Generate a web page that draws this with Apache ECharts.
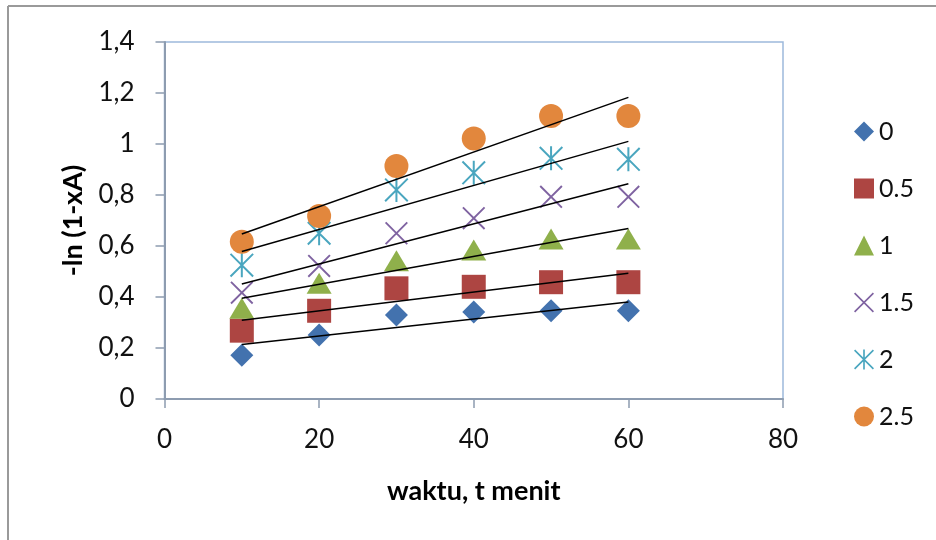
<!DOCTYPE html>
<html>
<head>
<meta charset="utf-8">
<script src="https://cdn.jsdelivr.net/npm/echarts@6/dist/echarts.min.js"></script>
<style>html,body{margin:0;padding:0;background:#fff;}#c{width:936px;height:540px;}</style>
</head>
<body>
<div id="c"></div>
<script>
var times = [10, 20, 30, 40, 50, 60];
var seriesNames = ['0', '0.5', '1', '1.5', '2', '2.5'];
var s0  = [0.172, 0.251, 0.329, 0.341, 0.346, 0.346];
var s05 = [0.268, 0.346, 0.434, 0.440, 0.458, 0.458];
var s1  = [0.356, 0.454, 0.542, 0.584, 0.627, 0.627];
var s15 = [0.417, 0.522, 0.650, 0.709, 0.793, 0.793];
var s2  = [0.525, 0.650, 0.820, 0.887, 0.944, 0.940];
var s25 = [0.617, 0.718, 0.914, 1.022, 1.110, 1.110];
var xTicks = [0, 20, 40, 60, 80];
var yTicks = ['0', '0,2', '0,4', '0,6', '0,8', '1', '1,2', '1,4'];

var allValues = [s0, s05, s1, s15, s2, s25];
var colors = ['#4372AE', '#AD4542', '#8FB04B', '#7F63A1', '#4AA6BF', '#E2873D'];
var X_PATH = 'path://M1.4,0 L24,22.6 L22.6,24 L0,1.4 Z M22.6,0 L24,1.4 L1.4,24 L0,22.6 Z';
var STAR_PATH = 'path://M1.4,0 L24,22.6 L22.6,24 L0,1.4 Z M22.6,0 L24,1.4 L1.4,24 L0,22.6 Z M11,0 L13,0 L13,24 L11,24 Z';
var symbols = ['diamond', 'rect', 'triangle', X_PATH, STAR_PATH, 'circle'];
var sizes = [[23, 23], [24, 24], [25, 21], [23, 23], [24, 24], [24, 24]];

function fit(xs, ys) {
  var n = xs.length, mx = 0, my = 0;
  for (var i = 0; i < n; i++) { mx += xs[i]; my += ys[i]; }
  mx /= n; my /= n;
  var sxy = 0, sxx = 0;
  for (var j = 0; j < n; j++) { sxy += (xs[j] - mx) * (ys[j] - my); sxx += (xs[j] - mx) * (xs[j] - mx); }
  var b = sxy / sxx, a = my - b * mx;
  var x0 = xs[0], x1 = xs[n - 1];
  return [[x0, a + b * x0], [x1, a + b * x1]];
}

var FONT = 'Lato';
var series = [];
allValues.forEach(function (vals, k) {
  series.push({
    name: seriesNames[k],
    type: 'scatter',
    symbol: symbols[k],
    symbolSize: sizes[k],
    itemStyle: { color: colors[k], opacity: 1 },
    data: times.map(function (t, i) { return [t, vals[i]]; }),
    z: 2
  });
});
allValues.forEach(function (vals, k) {
  series.push({
    name: 'trend' + k,
    type: 'line',
    data: fit(times, vals),
    symbol: 'none',
    lineStyle: { color: '#000', width: 1.5 },
    silent: true,
    z: 5
  });
});

var chart = echarts.init(document.getElementById('c'), null, { renderer: 'canvas' });
chart.setOption({
  animation: false,
  backgroundColor: '#fff',
  textStyle: { fontFamily: FONT },
  grid: { left: 164.5, right: 153, top: 42, bottom: 141, show: true, borderColor: '#9DB9DC', borderWidth: 1.5 },
  xAxis: {
    type: 'value', min: 0, max: 80, interval: 20,
    name: 'waktu, t menit', nameLocation: 'middle', nameGap: 79,
    nameTextStyle: { fontFamily: FONT, fontWeight: 'bold', fontSize: 27, color: '#000' },
    axisLine: { lineStyle: { color: '#8D9CB0', width: 2 } },
    axisTick: { show: true, length: 9, lineStyle: { color: '#8D9CB0', width: 1.5 } },
    axisLabel: { margin: 28, fontSize: 26, color: '#111', fontFamily: FONT,
      formatter: function (v) { return xTicks.indexOf(v) >= 0 ? String(v) : ''; } },
    splitLine: { show: false }
  },
  yAxis: {
    type: 'value', min: 0, max: 1.4, interval: 0.2,
    name: '-ln (1-xA)', nameLocation: 'middle', nameGap: 78, nameRotate: 90,
    nameTextStyle: { fontFamily: FONT, fontWeight: 'bold', fontSize: 27, color: '#000' },
    axisLine: { lineStyle: { color: '#8D9CB0', width: 2 } },
    axisTick: { show: true, length: 9, lineStyle: { color: '#8D9CB0', width: 1.5 } },
    axisLabel: { margin: 30, fontSize: 26, color: '#111', fontFamily: FONT,
      formatter: function (v) { return yTicks[Math.round(v / 0.2)]; } },
    splitLine: { show: false }
  },
  legend: {
    data: seriesNames,
    orient: 'vertical',
    left: 849, top: 114,
    itemWidth: 20, itemHeight: 20, itemGap: 32,
    textStyle: { fontSize: 25, color: '#111', fontFamily: FONT, padding: [0, 0, 0, 0] }
  },
  graphic: [
    { type: 'line', shape: { x1: 8, y1: 6, x2: 936, y2: 6 }, style: { stroke: '#9a9a9a', lineWidth: 2 }, silent: true },
    { type: 'line', shape: { x1: 8, y1: 6, x2: 8, y2: 540 }, style: { stroke: '#9a9a9a', lineWidth: 2 }, silent: true }
  ],
  series: series
});
</script>
</body>
</html>
